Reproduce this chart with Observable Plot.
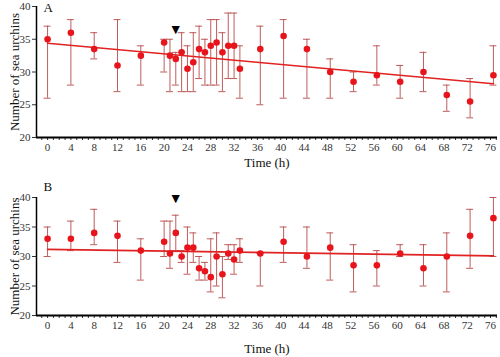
<!DOCTYPE html>
<html>
<head>
<meta charset="utf-8">
<script src="https://cdn.jsdelivr.net/npm/d3@7"></script>
<script src="https://cdn.jsdelivr.net/npm/@observablehq/plot@0.6"></script>
<style>
  html, body { margin: 0; padding: 0; background: #fff; }
  #chart svg { display: block; }
  #chart svg, #chart svg text { font-family: "Liberation Serif", "Times New Roman", "DejaVu Serif", serif !important; }
</style>
</head>
<body>
<div id="chart"></div>
<script>
// Sampling times (h)
const hours = [0, 4, 8, 12, 16, 20, 21, 22, 23, 24, 25, 26, 27, 28, 29, 30, 31, 32, 33,
  36.5, 40.5, 44.5, 48.5, 52.5, 56.5, 60.5, 64.5, 68.5, 72.5, 76.5];

// Panel A
const meanA = [35, 36, 33.5, 31, 32.5, 34.5, 32.5, 32, 33, 30.5, 31.5, 33.5, 33, 34, 34.5, 33, 34, 34, 30.5,
  33.5, 35.5, 33.5, 30, 28.5, 29.5, 28.5, 30, 26.5, 25.5, 29.5];
const upperA = [37, 38, 36, 38, 34, 35, 35, 33, 36, 34, 36, 37, 35, 38, 38, 36, 39, 39, 34,
  37, 38, 35, 32, 30, 34, 31, 33, 28, 29, 34];
const lowerA = [26, 28, 32, 27, 28, 30, 27, 28, 27, 27, 27, 29, 28, 28, 28, 27, 29, 29, 26,
  25, 26, 26, 26, 27, 28, 26, 27, 24, 23, 28];

// Panel B
const meanB = [33, 33, 34, 33.5, 31, 32.5, 30.5, 34, 30, 31.5, 31.5, 28, 27.5, 26.5, 30, 27, 30.5, 29.5, 31,
  30.5, 32.5, 30, 31.5, 28.5, 28.5, 30.5, 28, 30, 33.5, 36.5];
const upperB = [35, 36, 38, 36, 33, 36, 36, 37, 31, 35, 34, 30, 29, 33, 34, 30, 32, 32, 33,
  30.5, 35, 35, 34, 32, 31, 32, 32, 34, 38, 40];
const lowerB = [30, 31, 32, 29, 26, 30, 28, 31, 29, 27, 29, 26, 26, 24, 25, 23, 29.5, 27, 29,
  25, 29, 28, 26, 24, 25, 30, 25, 24, 28, 30];

// Fitted trend lines
const trendHours = [0, 76.5];
const trendA = [34.4, 28.2];
const trendB = [31.2, 30.1];

// Arrow marker position
const arrowHour = [22];
const arrowA = [36.5];
const arrowB = [39.8];

const yTicks = [20, 25, 30, 35, 40];
const xMinor = d3.range(-1, 78);
const xDomain = [-1.9, 77.2];
const yTitle = "Number of sea urchins";
const xTitle = "Time (h)";
const serif = "Liberation Serif, Times New Roman, serif";

function panel(letter, mean, upper, lower, trend, arrowY, opts) {
  const data = hours.map((t, i) => ({t, m: mean[i], hi: upper[i], lo: lower[i]}));
  const tr = trendHours.map((t, i) => ({t, v: trend[i]}));
  const arr = arrowHour.map((t, i) => ({t, v: arrowY[i]}));
  return Plot.plot({
    width: 500,
    height: opts.height,
    marginTop: opts.marginTop,
    marginBottom: opts.marginBottom,
    marginLeft: 36,
    marginRight: 3,
    style: {fontFamily: serif, fontSize: "11px", background: "white", color: "#333"},
    x: {domain: xDomain},
    y: {domain: [20, 40]},
    marks: [
      Plot.axisX({ticks: xMinor, tickSize: 3, tickPadding: 3,
        tickFormat: d => (d >= 0 && d % 4 === 0 ? d : ""), label: null, fontSize: 11, fontFamily: serif}),
      Plot.axisY({ticks: yTicks, tickSize: 4, tickPadding: 2, label: null, fontSize: 11, fontFamily: serif}),
      Plot.text([yTitle], {frameAnchor: "left", textAnchor: "middle", lineAnchor: "middle",
        rotate: -90, dx: -22, fontSize: 13, fontFamily: serif, fill: "#111"}),
      Plot.text([xTitle], {frameAnchor: "bottom", lineAnchor: "middle", dy: opts.xTitleDy, fontSize: 13,
        fontFamily: serif, fill: "#111"}),
      Plot.ruleY([20], {stroke: "black", strokeWidth: 2}),
      Plot.ruleX([xDomain[0]], {stroke: "black", strokeWidth: 1.5}),
      Plot.ruleX(data, {x: "t", y1: "lo", y2: "hi", stroke: "#b84a4a", strokeWidth: 1, strokeOpacity: 0.9}),
      Plot.ruleY(data, {y: "hi", x1: d => d.t - 0.6, x2: d => d.t + 0.6, stroke: "#b84a4a", strokeWidth: 1, strokeOpacity: 0.9}),
      Plot.ruleY(data, {y: "lo", x1: d => d.t - 0.6, x2: d => d.t + 0.6, stroke: "#b84a4a", strokeWidth: 1, strokeOpacity: 0.9}),
      Plot.line(tr, {x: "t", y: "v", stroke: "#e02222", strokeWidth: 1.6}),
      Plot.dot(data, {x: "t", y: "m", r: 3.3, fill: "#e8141c", stroke: "none"}),
      Plot.text(arr, {x: "t", y: "v", text: () => "▼", fontSize: 14, fill: "black"}),
      Plot.text([letter], {frameAnchor: "top-left", dx: 7, dy: opts.letterDy, fontSize: 13, fontFamily: serif, fill: "#111"})
    ]
  });
}

const chart = document.getElementById("chart");
chart.append(panel("A", meanA, upperA, lowerA, trendA, arrowA,
  {height: 172, marginTop: 6, marginBottom: 35, xTitleDy: 25, letterDy: -4}));
chart.append(panel("B", meanB, upperB, lowerB, trendB, arrowB,
  {height: 185, marginTop: 25, marginBottom: 42, xTitleDy: 33, letterDy: -16}));
</script>
</body>
</html>
